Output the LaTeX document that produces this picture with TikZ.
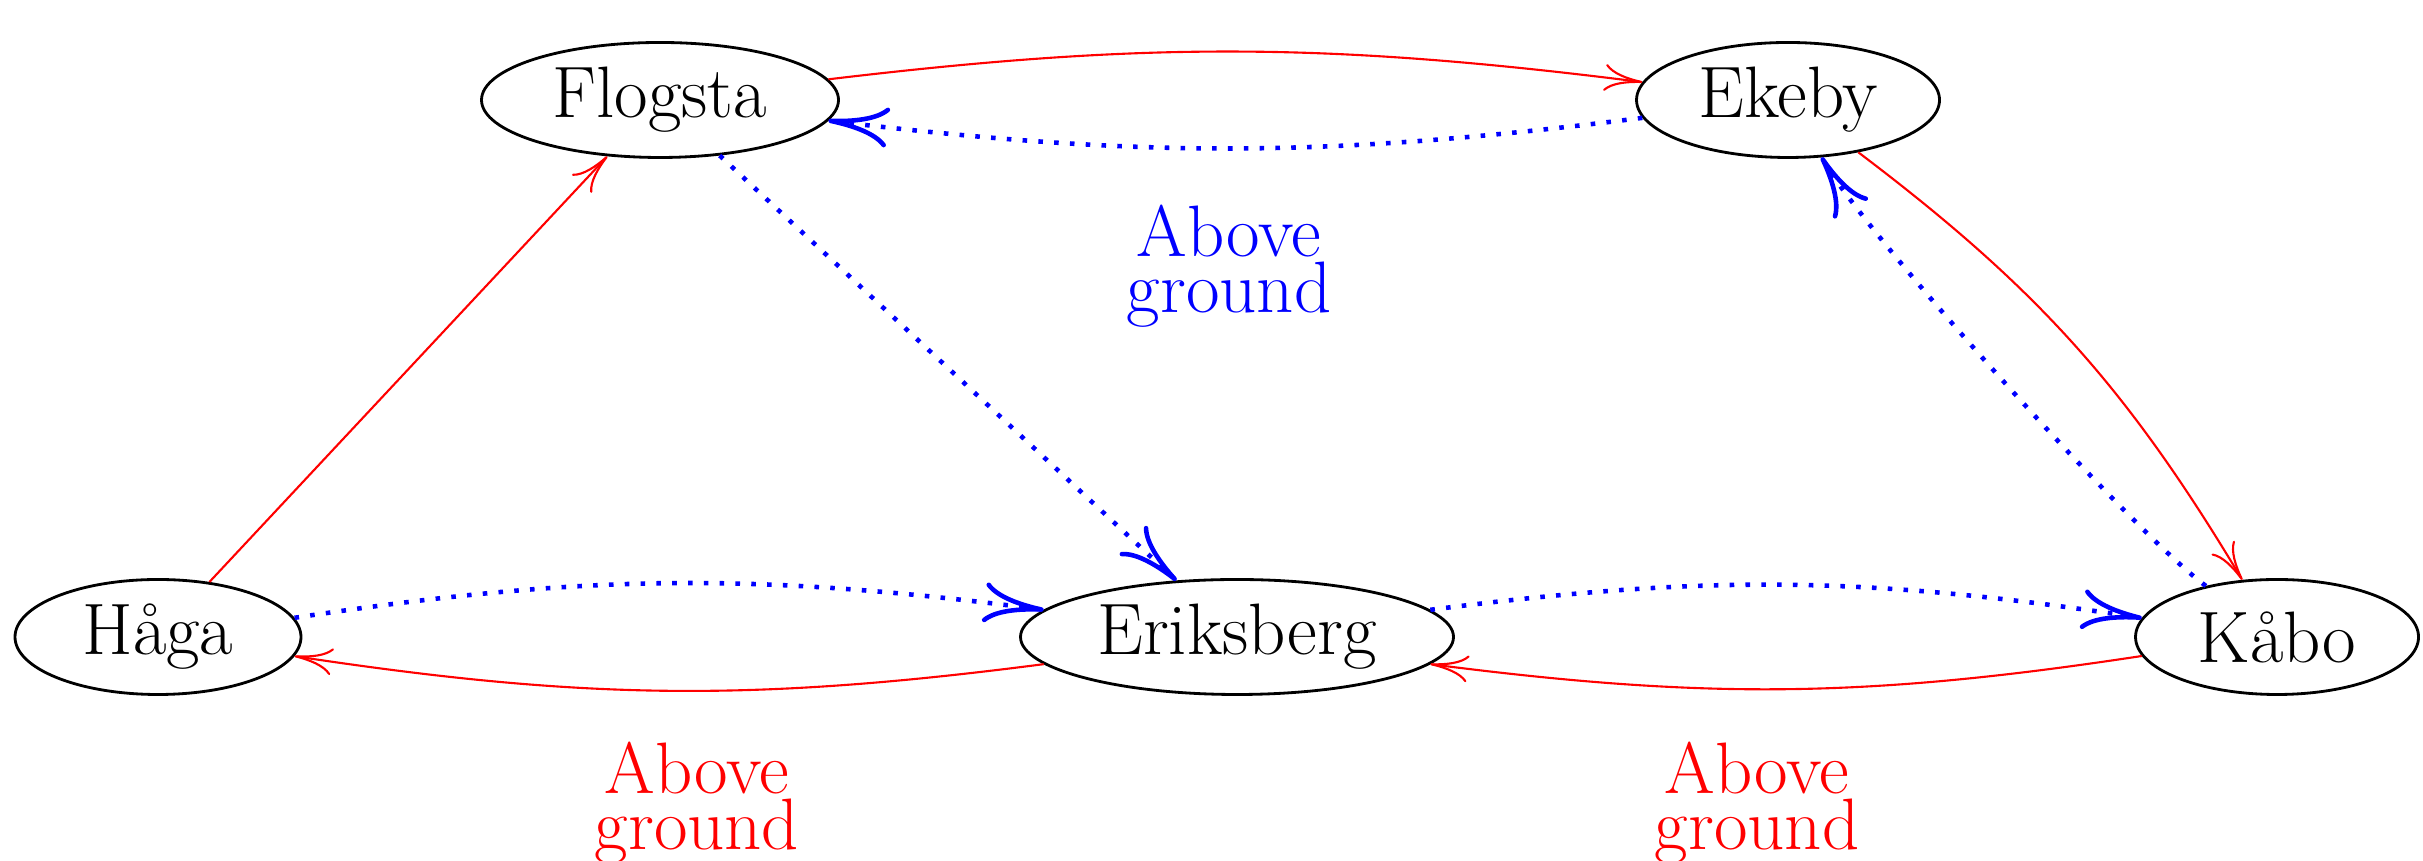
\documentclass[tikz,border=0pt]{standalone}
\usepackage{tikz}
\usetikzlibrary{
  shapes.geometric,
  arrows.meta
}

\begin{document}
\begin{tikzpicture}[
  stn/.style={ellipse, draw=black, line width=0.8pt, minimum width=#1, minimum height=1.15cm, inner sep=0pt, font=\huge},
  road/.style={-{To[length=3.8mm, width=2.7mm]}, red, line width=0.6pt},
  tunnel/.style={-{To[length=6mm, width=4mm]}, blue, line width=1.3pt, dash pattern=on 1.3pt off 3.2pt},
  note/.style={font=\fontsize{20.74}{16}\selectfont, align=center, text=#1}
]
  \useasboundingbox (0,0) rectangle (24.23,8.61);

  \node[stn=3.57cm] (flogsta) at (6.60,7.61) {Flogsta};
  \node[stn=3.03cm] (ekeby) at (17.88,7.61) {Ekeby};
  \node[stn=2.86cm] (haga) at (1.58,2.24) {Håga};
  \node[stn=4.33cm] (eriksberg) at (12.37,2.24) {Eriksberg};
  \node[stn=2.83cm] (kabo) at (22.77,2.24) {Kåbo};

  \node[note=blue] (upper) at (12.29,5.95) {Above\\ground};
  \node[note=red] (lowerw) at (6.97,0.58) {Above\\ground};
  \node[note=red] (lowere) at (17.57,0.58) {Above\\ground};

  % above ground
  \draw[road] (flogsta) to[bend left=7] (ekeby);
  \draw[road] (ekeby) to[bend left=11] (kabo);
  \draw[road] (kabo) to[bend left=8] (eriksberg);
  \draw[road] (eriksberg) to[bend left=8] (haga);
  \draw[road] (haga) -- (flogsta);

  % below ground
  \draw[tunnel] (ekeby) to[bend left=7] (flogsta);
  \draw[tunnel] (flogsta) -- (eriksberg);
  \draw[tunnel] (haga) to[bend left=8] (eriksberg);
  \draw[tunnel] (eriksberg) to[bend left=8] (kabo);
  \draw[tunnel] (kabo) to[bend left=12, looseness=0.4] (ekeby);
\end{tikzpicture}
\end{document}
